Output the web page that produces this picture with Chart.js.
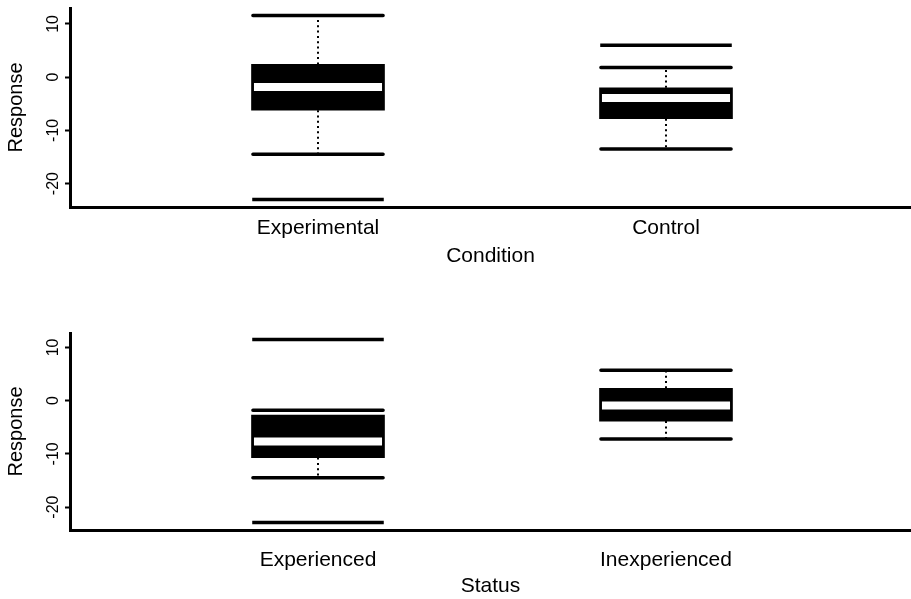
<!DOCTYPE html>
<html><head><meta charset="utf-8">
<script src="https://cdn.jsdelivr.net/npm/chart.js@4/dist/chart.umd.min.js"></script>
<style>
html,body{margin:0;padding:0;background:#fff;overflow:hidden;}
#top{position:absolute;left:0;top:0;width:911px;height:300px;}
#bot{position:absolute;left:0;top:300px;width:911px;height:299px;}
canvas{display:block;}
</style></head><body>
<div id="top"><canvas id="c1" width="911" height="300"></canvas></div>
<div id="bot"><canvas id="c2" width="911" height="299"></canvas></div>
<script>
// ---- data ----
const conditionCategories = ['Experimental', 'Control'];
const conditionQ1 = [-6.2, -7.8];
const conditionMedian = [-1.85, -3.9];
const conditionQ3 = [2.4, -2.0];
const conditionWhiskerLow = [-14.5, -13.5];
const conditionWhiskerHigh = [11.6, 1.8];
const conditionOutliers = [[-23.0], [6.0]];

const statusCategories = ['Experienced', 'Inexperienced'];
const statusQ1 = [-10.7, -3.85];
const statusMedian = [-7.7, -0.9];
const statusQ3 = [-2.7, 2.3];
const statusWhiskerLow = [-14.5, -7.2];
const statusWhiskerHigh = [-1.8, 5.7];
const statusOutliers = [[11.5, -22.9], []];

const yTickValues = [-20, -10, 0, 10];

// ---- styling ----
Chart.defaults.font.family = '"Liberation Sans", Arial, Helvetica, sans-serif';
Chart.defaults.color = '#000';

const X_MIN = 1 - 248 / 348;
const X_MAX = X_MIN + 841 / 348;
const BOX_PX = 133;
const STAPLE_HALF = 0.187;
const OUTLIER_HALF = 0.189;
const MEDIAN_HALF = 0.184;
const MIN_WHISKER = 1.5; // whiskers shorter than this show no dots

function hSegments(xs, valuesPer, half) {
  const pts = [];
  xs.forEach((x, i) => {
    valuesPer[i].forEach(v => {
      pts.push({x: x - half, y: v}, {x: x + half, y: v}, {x: x + half, y: null});
    });
  });
  return pts;
}
function vSegments(xs, from, to) {
  const pts = [];
  xs.forEach((x, i) => {
    if (Math.abs(to[i] - from[i]) < MIN_WHISKER) return;
    pts.push({x: x, y: from[i]}, {x: x, y: to[i]}, {x: x, y: null});
  });
  return pts;
}

function makeChart(id, p) {
  const xs = p.categories.map((c, i) => i + 1);
  const lineBase = {type: 'line', pointRadius: 0, pointHoverRadius: 0, spanGaps: false, fill: false, tension: 0};
  new Chart(document.getElementById(id), {
    type: 'bar',
    data: {
      datasets: [
        Object.assign({}, lineBase, {
          label: 'median', order: 0,
          data: hSegments(xs, p.median.map(v => [v]), MEDIAN_HALF),
          borderColor: '#fff', borderWidth: 8, borderCapStyle: 'butt'
        }),
        Object.assign({}, lineBase, {
          label: 'staples', order: 1,
          data: hSegments(xs, p.low.map((v, i) => [v, p.high[i]]), STAPLE_HALF),
          borderColor: '#000', borderWidth: 3.5, borderCapStyle: 'round'
        }),
        Object.assign({}, lineBase, {
          label: 'outliers', order: 1,
          data: hSegments(xs, p.outliers, OUTLIER_HALF),
          borderColor: '#000', borderWidth: 3.5, borderCapStyle: 'butt'
        }),
        Object.assign({}, lineBase, {
          label: 'whiskers', order: 2,
          data: vSegments(xs, p.q3, p.high).concat(vSegments(xs, p.q1, p.low)),
          borderColor: '#000', borderWidth: 2, borderDash: [2, 3.3], borderCapStyle: 'butt'
        }),
        {
          type: 'bar', label: 'box', order: 3,
          data: xs.map((x, i) => ({x: x, y: [p.q1[i], p.q3[i]]})),
          backgroundColor: '#000', borderWidth: 0, barThickness: BOX_PX
        }
      ]
    },
    options: {
      responsive: false,
      animation: false,
      events: [],
      layout: {padding: {top: p.padTop, bottom: p.padBottom, left: 0, right: 0}},
      plugins: {legend: {display: false}, tooltip: {enabled: false}, title: {display: false}},
      scales: {
        x: {
          type: 'linear', min: X_MIN, max: X_MAX, offset: false,
          grid: {display: false, offset: false},
          border: {display: true, color: '#000', width: 3},
          afterBuildTicks: s => { s.ticks = xs.map(v => ({value: v})); },
          afterFit: s => { s.height = p.xHeight; s.paddingLeft = 0; s.paddingRight = 0; },
          ticks: {
            autoSkip: false, maxRotation: 0, minRotation: 0,
            padding: p.xTickPad, font: {size: 21}, color: '#000',
            callback: v => p.categories[Math.round(v) - 1]
          },
          title: {display: true, text: p.xTitle, font: {size: 21}, color: '#000', padding: {top: 0, bottom: 0}}
        },
        y: {
          type: 'linear', min: p.yMin, max: p.yMax,
          grid: {display: true, drawOnChartArea: false, drawTicks: true, tickLength: 5, tickWidth: 2, tickColor: '#000', color: '#000'},
          border: {display: true, color: '#000', width: 3},
          afterBuildTicks: s => { s.ticks = yTickValues.map(v => ({value: v})); },
          afterFit: s => { s.width = 70; s.paddingTop = 0; s.paddingBottom = 0; },
          ticks: {
            autoSkip: false, minRotation: 90, maxRotation: 90, crossAlign: 'center',
            padding: 0, font: {size: 16}, color: '#000'
          },
          title: {display: true, text: 'Response', font: {size: 20}, color: '#000', padding: {top: 4, bottom: 0}}
        }
      }
    }
  });
}

makeChart('c1', {
  categories: conditionCategories, q1: conditionQ1, median: conditionMedian, q3: conditionQ3,
  low: conditionWhiskerLow, high: conditionWhiskerHigh, outliers: conditionOutliers,
  xTitle: 'Condition', yMin: -24.4, yMax: 13.0,
  padTop: 8, padBottom: 31, xHeight: 62, xTickPad: 1
});
makeChart('c2', {
  categories: statusCategories, q1: statusQ1, median: statusMedian, q3: statusQ3,
  low: statusWhiskerLow, high: statusWhiskerHigh, outliers: statusOutliers,
  xTitle: 'Status', yMin: -24.3, yMax: 12.7,
  padTop: 33, padBottom: 0, xHeight: 69, xTickPad: 10
});
</script>
</body></html>
